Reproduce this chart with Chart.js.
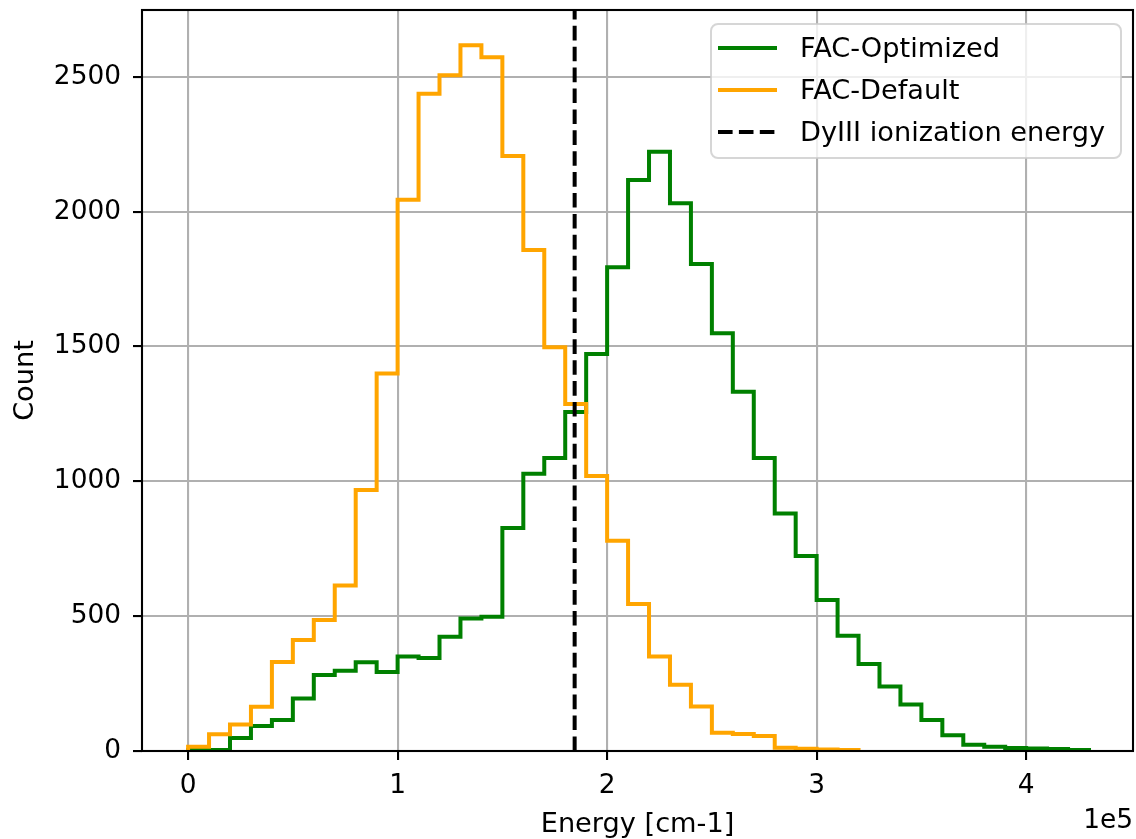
<!DOCTYPE html>
<html>
<head>
<meta charset="utf-8">
<script src="https://cdn.jsdelivr.net/npm/chart.js@4/dist/chart.umd.min.js"></script>
<style>
html,body{margin:0;padding:0;background:#fff;}
#wrap{width:1136px;height:839px;}
</style>
</head>
<body>
<div id="wrap"><canvas id="c" width="1136" height="839"></canvas></div>
<script>
// ---- data ----
const binWidth = 10000;
const optimizedStart = 0;
const optimizedCounts = [4, 4, 48, 93, 115, 195, 282, 298, 329, 293, 350, 345, 424, 491, 498,
  827, 1028, 1087, 1257, 1472, 1794, 2118, 2222, 2031, 1806, 1549, 1332, 1087, 881, 723,
  560, 427, 323, 239, 172, 115, 58, 23, 16, 11, 9, 7, 4];
const defaultStart = 0;
const defaultCounts = [16, 62, 98, 164, 330, 412, 486, 614, 968, 1400, 2044, 2437, 2506, 2617, 2573,
  2207, 1858, 1497, 1287, 1020, 780, 545, 350, 246, 165, 68, 63, 56, 12, 8, 6, 4];
const ionizationEnergy = 184500;
const seriesLabels = ['FAC-Optimized', 'FAC-Default', 'DyIII ionization energy'];
const xTicks = [0, 100000, 200000, 300000, 400000];
const yTicks = [0, 500, 1000, 1500, 2000, 2500];
const xRange = [-22000, 451000];
const yRange = [0, 2748];
const xLabel = 'Energy [cm-1]';
const yLabel = 'Count';
const offsetLabel = '1e5';

// ---- helpers ----
// Each point sits at the right edge of its bin; with stepped:'after' the line rises
// at the bin's left edge and runs flat across the bin.
function stepPoints(start, counts) {
  const pts = [{x: start, y: 0}];
  counts.forEach((c, i) => pts.push({x: start + (i + 1) * binWidth, y: c}));
  const end = start + counts.length * binWidth;
  pts.push({x: end, y: 0});
  return pts;
}

const FONT = 'DejaVu Sans';
const FS = 26.4;
const FS2 = 27.2;
const DASH = [14.6, 6.3];

const extras = {
  id: 'extras',
  afterDatasetsDraw(chart) {
    const {ctx, chartArea: a} = chart;
    ctx.save();
    ctx.strokeStyle = '#000';
    ctx.lineWidth = 2.1;
    ctx.strokeRect(a.left, a.top, a.right - a.left, a.bottom - a.top);
    ctx.restore();
  },
  afterDraw(chart) {
    const {ctx, chartArea: a} = chart;
    ctx.save();
    // offset text
    ctx.font = FS + 'px "' + FONT + '"';
    ctx.fillStyle = '#000';
    ctx.textAlign = 'right';
    ctx.textBaseline = 'middle';
    ctx.fillText(offsetLabel, a.right, 821);
    // legend
    const bx = 711, by = 24, bw = 410, bh = 134, r = 7;
    ctx.beginPath();
    ctx.moveTo(bx + r, by);
    ctx.arcTo(bx + bw, by, bx + bw, by + bh, r);
    ctx.arcTo(bx + bw, by + bh, bx, by + bh, r);
    ctx.arcTo(bx, by + bh, bx, by, r);
    ctx.arcTo(bx, by, bx + bw, by, r);
    ctx.closePath();
    ctx.fillStyle = 'rgba(255,255,255,0.8)';
    ctx.fill();
    ctx.strokeStyle = 'rgba(204,204,204,0.8)';
    ctx.lineWidth = 2;
    ctx.stroke();
    const rows = [48, 90, 132];
    ctx.font = FS2 + 'px "' + FONT + '"';
    chart.data.datasets.forEach((ds, i) => {
      const y = rows[i];
      ctx.beginPath();
      ctx.setLineDash(ds.borderDash || []);
      ctx.strokeStyle = ds.borderColor;
      ctx.lineWidth = ds.borderWidth;
      ctx.moveTo(718, y);
      ctx.lineTo(777, y);
      ctx.stroke();
      ctx.setLineDash([]);
      ctx.fillStyle = '#000';
      ctx.textAlign = 'left';
      ctx.textBaseline = 'middle';
      ctx.fillText(ds.label, 800, y + 1.5);
    });
    ctx.restore();
  }
};

const tickFont = {family: FONT, size: FS};
const titleFont = {family: FONT, size: FS2};

new Chart(document.getElementById('c'), {
  type: 'line',
  data: {
    datasets: [
      {label: seriesLabels[0], data: stepPoints(optimizedStart, optimizedCounts),
       borderColor: 'green', borderWidth: 4, stepped: 'after', pointRadius: 0, fill: false, order: 2},
      {label: seriesLabels[1], data: stepPoints(defaultStart, defaultCounts),
       borderColor: 'orange', borderWidth: 4, stepped: 'after', pointRadius: 0, fill: false, order: 1},
      {label: seriesLabels[2], data: [{x: ionizationEnergy, y: yRange[0]}, {x: ionizationEnergy, y: yRange[1]}],
       borderColor: 'black', borderWidth: 4, borderDash: DASH, pointRadius: 0, fill: false, order: 0}
    ]
  },
  options: {
    responsive: false,
    animation: false,
    devicePixelRatio: 1,
    layout: {padding: {left: 0, right: 3, top: 10, bottom: 0}},
    plugins: {legend: {display: false}, tooltip: {enabled: false}},
    scales: {
      x: {
        type: 'linear', min: xRange[0], max: xRange[1],
        afterBuildTicks: s => { s.ticks = xTicks.map(v => ({value: v})); },
        afterFit: s => { s.height = 88; s.paddingLeft = 0; s.paddingRight = 0; },
        ticks: {autoSkip: false, maxRotation: 0, font: tickFont, color: '#000', padding: 10,
                callback: v => String(v / 100000)},
        grid: {color: '#b0b0b0', lineWidth: 2.1, tickColor: '#000', tickLength: 9, tickWidth: 2.1},
        border: {display: false},
        title: {display: true, text: xLabel, font: titleFont, color: '#000', padding: {top: 0, bottom: -2}}
      },
      y: {
        type: 'linear', min: yRange[0], max: yRange[1],
        afterBuildTicks: s => { s.ticks = yTicks.map(v => ({value: v})); },
        afterFit: s => { s.width = 142; s.paddingTop = 0; s.paddingBottom = 0; },
        ticks: {autoSkip: false, font: tickFont, color: '#000', padding: 12,
                callback: v => String(v)},
        grid: {color: '#b0b0b0', lineWidth: 2.1, tickColor: '#000', tickLength: 9, tickWidth: 2.1},
        border: {display: false},
        title: {display: true, text: yLabel, font: titleFont, color: '#000', padding: {top: 10, bottom: 0}}
      }
    }
  },
  plugins: [extras]
});
</script>
</body>
</html>
